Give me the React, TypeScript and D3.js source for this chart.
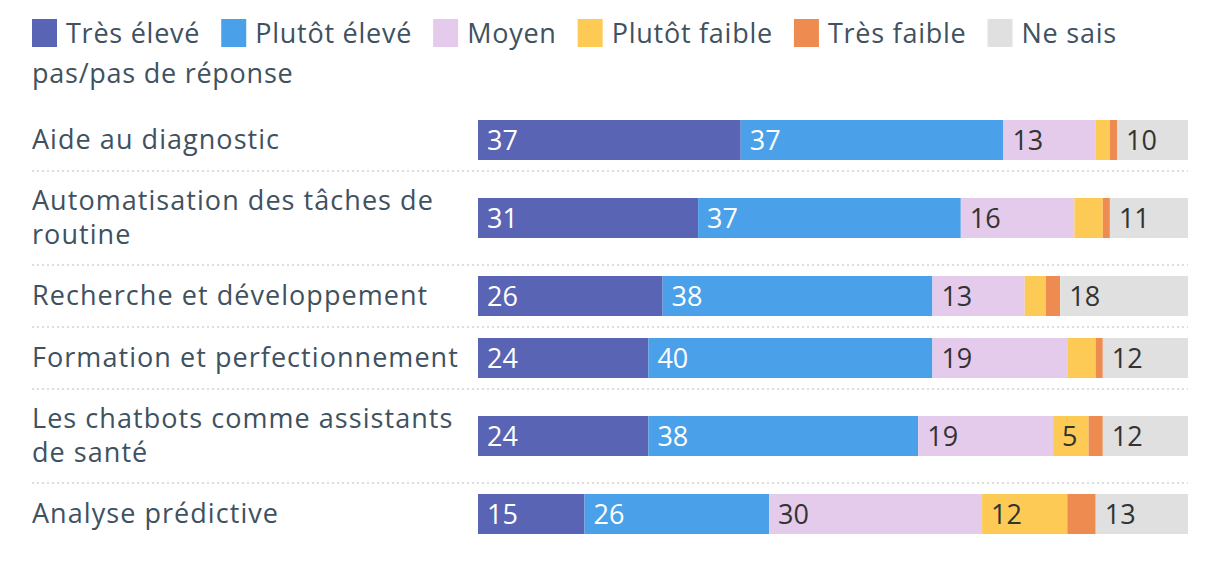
import React from "react";
import * as d3 from "d3";

const categories = [
  "Aide au diagnostic",
  "Automatisation des tâches de routine",
  "Recherche et développement",
  "Formation et perfectionnement",
  "Les chatbots comme assistants de santé",
  "Analyse prédictive",
];
const seriesNames = ["Très élevé", "Plutôt élevé", "Moyen", "Plutôt faible", "Très faible", "Ne sais pas/pas de réponse"];
const tresEleve = [37, 31, 26, 24, 24, 15];
const plutotEleve = [37, 37, 38, 40, 38, 26];
const moyen = [13, 16, 13, 19, 19, 30];
const plutotFaible = [2, 4, 3, 4, 5, 12];
const tresFaible = [1, 1, 2, 1, 2, 4];
const neSaisPas = [10, 11, 18, 12, 12, 13];

const colors = ["#5A64B4", "#4AA1E9", "#E5CBEB", "#FDCB55", "#EE8B51", "#E0E0E0"];
const labelColors = ["#ffffff", "#ffffff", "#333333", "#333333", "#333333", "#333333"];

const FONT = "'Open Sans', 'Noto Sans', sans-serif";
const TEXT = "#40515F";
const LS = 1.05;
const LEG_LS = 0.75;
const W = 1204;
const H = 570;

let ctx: CanvasRenderingContext2D | null = null;
function measure(t: string, size: number, ls: number = LS) {
  if (!ctx) ctx = document.createElement("canvas").getContext("2d");
  ctx!.font = `${size}px ${FONT}`;
  return ctx!.measureText(t).width + t.length * ls;
}

function wrap(text: string, width: number, size: number) {
  const words = text.split(" ");
  const lines: string[] = [];
  let cur = "";
  for (const w of words) {
    const t = cur ? cur + " " + w : w;
    if (measure(t, size) > width && cur) {
      lines.push(cur);
      cur = w;
    } else cur = t;
  }
  if (cur) lines.push(cur);
  return lines;
}

export default function App() {
  const series = [tresEleve, plutotEleve, moyen, plutotFaible, tresFaible, neSaisPas];
  const table = categories.map((c, i) => {
    const o: any = { cat: c };
    seriesNames.forEach((s, j) => (o[s] = series[j][i]));
    return o;
  });
  const stacked = d3.stack<any>().keys(seriesNames)(table);

  const fs = 27;
  const legendFs = 27;
  const x = d3.scaleLinear().domain([0, 100]).range([470, 1180]);

  // legend flow
  const sw = 25, sh = 28, gapSq = 9, gapItem = 21, legendLH = 40;
  const legendLeft = 24, legendMax = 1182;
  const legendItems: any[] = [];
  let lx = legendLeft, line = 0;
  seriesNames.forEach((name, i) => {
    if (lx + sw + gapSq + measure(name.split(" ")[0], legendFs, LEG_LS) > legendMax) {
      line++;
      lx = legendLeft;
    }
    const sq = { x: lx, line, color: colors[i] };
    lx += sw + gapSq;
    const texts: any[] = [];
    const words = name.split(" ");
    let cur = "";
    let startX = lx;
    words.forEach((w) => {
      const t = cur ? cur + " " + w : w;
      if (startX + measure(t, legendFs, LEG_LS) > legendMax && cur) {
        texts.push({ x: startX, line, t: cur });
        line++;
        startX = legendLeft;
        cur = w;
      } else cur = t;
    });
    texts.push({ x: startX, line, t: cur });
    lx = startX + measure(cur, legendFs, LEG_LS) + gapItem;
    legendItems.push({ sq, texts });
  });

  // rows
  const labelW = 436;
  const blockLH = 36, textLH = 34, barH = 40, pad = 11;
  let y = 101;
  const rows = categories.map((c) => {
    const lines = wrap(c, labelW, fs);
    const contentH = lines.length > 1 ? lines.length * blockLH : barH;
    const top = y + pad;
    const center = top + contentH / 2;
    y = top + contentH + pad;
    return { lines, top, center, contentH, sepY: y };
  });
  const yBand = d3.scaleOrdinal<string, number>().domain(categories).range(rows.map((r) => r.center));

  return (
    <svg width={W} height={H} style={{ display: "block", fontFamily: FONT }}>
      {legendItems.map((it, i) => (
        <g key={i}>
          <rect x={it.sq.x} y={11 + it.sq.line * legendLH} width={sw} height={sh} fill={it.sq.color} />
          {it.texts.map((t: any, k: number) => (
            <text key={k} x={t.x} y={35 + t.line * legendLH} fontSize={legendFs} fill={TEXT} letterSpacing={LEG_LS}>
              {t.t}
            </text>
          ))}
        </g>
      ))}
      {rows.map((r, i) =>
        i < rows.length - 1 ? (
          <line key={"s" + i} x1={24} x2={1180} y1={r.sepY} y2={r.sepY} stroke="#dddddd" strokeWidth={2} strokeDasharray="2,3" />
        ) : null
      )}
      {rows.map((r, i) => (
        <text key={"l" + i} fontSize={fs} fill={TEXT} letterSpacing={LS}>
          {r.lines.map((l, k) => (
            <tspan key={k} x={24} y={r.center - ((r.lines.length - 1) * textLH) / 2 + k * textLH + 9}>
              {l}
            </tspan>
          ))}
        </text>
      ))}
      {stacked.map((s, j) => (
        <g key={s.key} fill={colors[j]}>
          {s.map((d, i) => {
            const cy = yBand(categories[i]);
            const x0 = x(d[0]), x1 = x(d[1]);
            const v = d[1] - d[0];
            return (
              <g key={i}>
                <rect x={x0} y={cy - barH / 2} width={x1 - x0} height={barH} />
                {v >= 5 ? (
                  <text x={x0 + 9} y={cy + 9.5} fontSize={fs} fill={labelColors[j]}>
                    {v}
                  </text>
                ) : null}
              </g>
            );
          })}
        </g>
      ))}
    </svg>
  );
}
